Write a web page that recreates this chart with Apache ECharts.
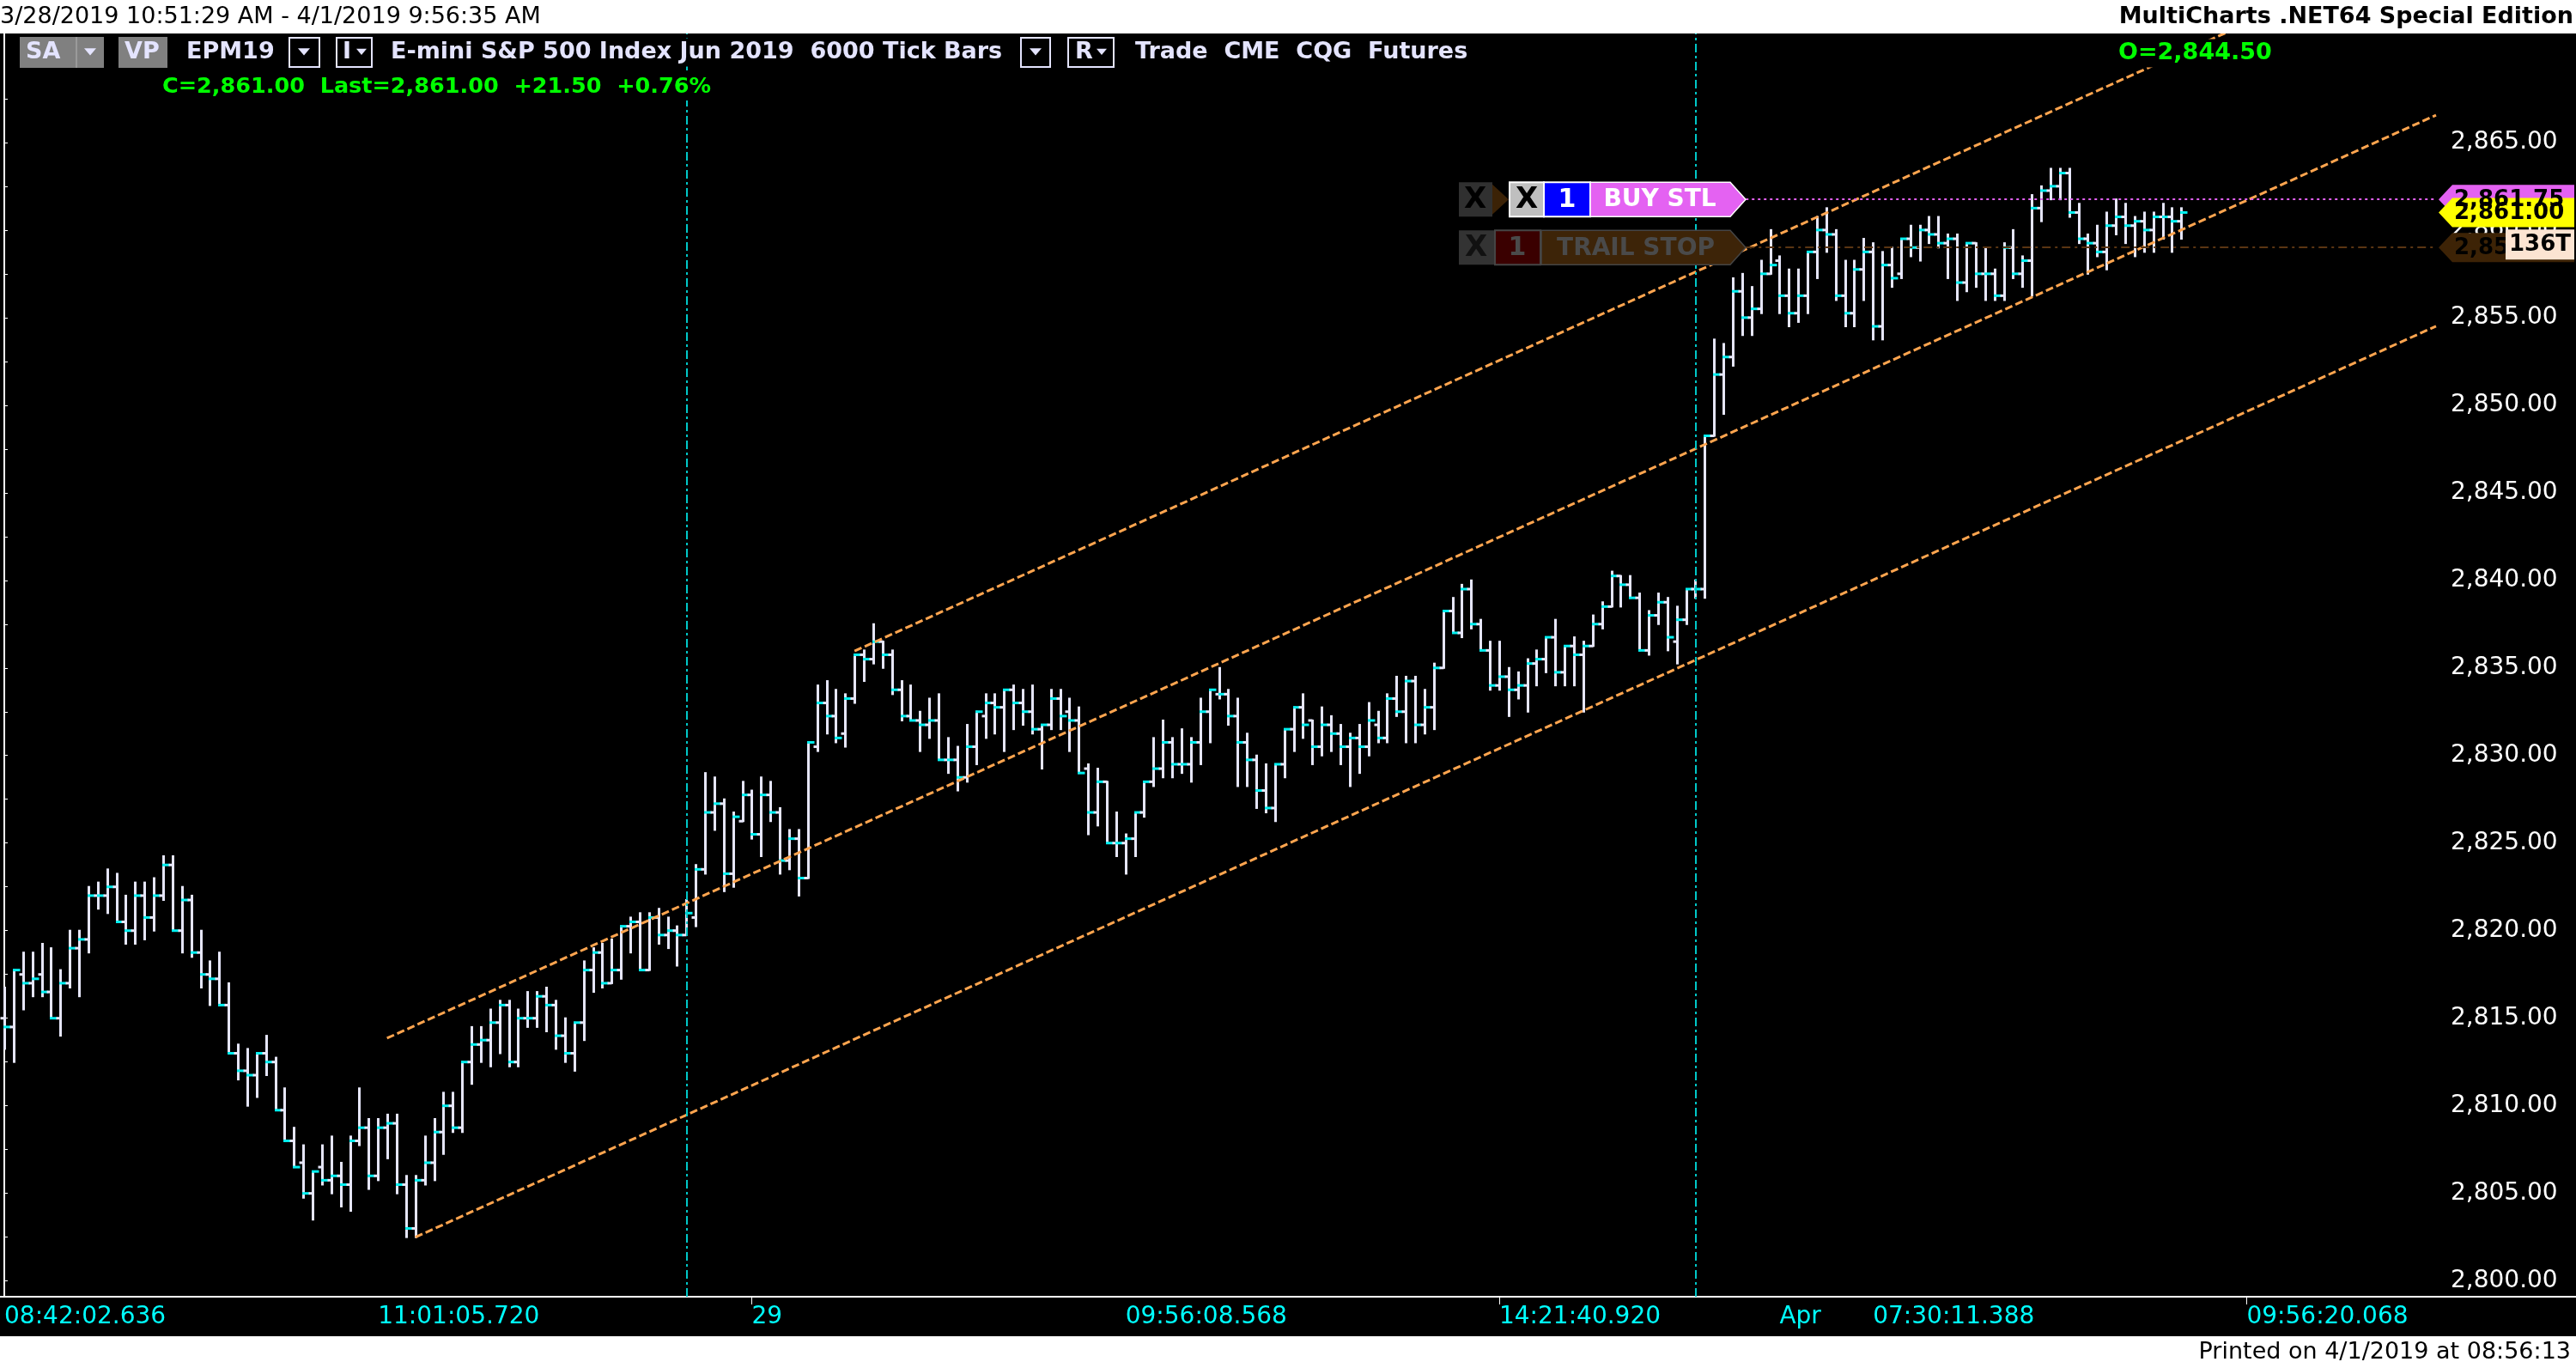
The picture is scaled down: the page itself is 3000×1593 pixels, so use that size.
<!DOCTYPE html>
<html>
<head>
<meta charset="utf-8">
<title>EPM19 6000 Tick Bars</title>
<script src="https://cdn.jsdelivr.net/npm/echarts@6/dist/echarts.min.js"></script>
<style>
  html, body { margin: 0; padding: 0; background: #fff; }
  #main { width: 3000px; height: 1593px; }
</style>
</head>
<body>
<div id="main"></div>
<script>
// OHLC of each 6000-tick bar (index = bar number)
var barOpen = [
  2815, 2814.5, 2817.5, 2817, 2817.5, 2816.5, 2815, 2817, 2819, 2819.5,
  2822, 2822, 2822.5, 2820.5, 2820, 2822, 2820.75, 2822, 2823.75, 2820,
  2821.75, 2818.75, 2817.5, 2817.25, 2815.75, 2813, 2812, 2811.75, 2813, 2812.5,
  2809.75, 2808, 2806.75, 2805, 2806.5, 2805.75, 2806, 2805.5, 2808, 2808.75,
  2806, 2808.75, 2809, 2805.5, 2803, 2805.75, 2806.75, 2808.5, 2810, 2808.75,
  2812.5, 2813.5, 2813.75, 2814.75, 2815.75, 2812.5, 2815, 2815, 2816.25, 2815.75,
  2814, 2813, 2814.75, 2817.75, 2818.75, 2817, 2817.75, 2820.25, 2820.5, 2817.75,
  2820.75, 2819.75, 2820, 2819.75, 2820.75, 2823.5, 2826.75, 2827.25, 2823.25, 2826.25,
  2827.75, 2825.5, 2827.75, 2826.75, 2824, 2825.25, 2823, 2830.5, 2833, 2832.25,
  2831.25, 2833.25, 2835.75, 2835.5, 2836.5, 2835.75, 2833.75, 2832.25, 2832, 2831.75,
  2832, 2829.75, 2829.75, 2828.75, 2830.5, 2832.25, 2833, 2832.75, 2833.75, 2833,
  2832.5, 2831.5, 2831.75, 2833.25, 2832.5, 2832, 2829.25, 2826.75, 2828.5, 2825,
  2825, 2825.25, 2826.75, 2828.5, 2829.25, 2830.75, 2829.5, 2829.5, 2830.75, 2832.5,
  2833.5, 2833.5, 2832.25, 2830.75, 2829.75, 2828, 2827, 2829.5, 2831.5, 2832.75,
  2832, 2830.5, 2831.75, 2831.25, 2830.5, 2831, 2830.5, 2831.75, 2831, 2833.25,
  2832.5, 2834.25, 2831.75, 2832.75, 2835, 2838.25, 2837, 2839.5, 2837.5, 2836,
  2834, 2834.5, 2833.75, 2834, 2835.25, 2835.5, 2836.75, 2834.75, 2836.25, 2835.75,
  2836.25, 2837.5, 2838.5, 2840.25, 2839.75, 2839, 2836, 2838, 2838.75, 2836.5,
  2837.75, 2839.5, 2839.5, 2848.25, 2851.75, 2852.75, 2856.5, 2855, 2855.5, 2857.5,
  2858.25, 2856.25, 2855.25, 2856.25, 2858.75, 2860, 2859.75, 2856.25, 2855.25, 2857.75,
  2858.75, 2854.5, 2858, 2857.5, 2859.5, 2859, 2860, 2859.75, 2859.25, 2859.5,
  2857, 2859.25, 2857.5, 2857.5, 2856.25, 2859, 2857.5, 2858.25, 2861.25, 2862.25,
  2862.5, 2863.25, 2861, 2859.5, 2859.25, 2858.75, 2860.25, 2860.75, 2860.25, 2860.5,
  2860, 2860.75, 2860.75, 2860.5
];
var barHigh = [
  2816.75, 2817.75, 2818.75, 2818.75, 2819.25, 2819, 2817.75, 2820, 2820, 2822.5,
  2822.75, 2823.5, 2823.25, 2822, 2822.75, 2822.75, 2823, 2824.25, 2824.25, 2822.5,
  2822, 2820, 2818.25, 2818.75, 2817, 2813.5, 2813.25, 2813, 2814, 2812.75,
  2811, 2808.75, 2807.75, 2806.25, 2807.75, 2808.25, 2806.75, 2808.25, 2811, 2809.25,
  2809.25, 2809.5, 2809.5, 2806, 2806, 2808.25, 2809.25, 2810.75, 2810.75, 2812.5,
  2814.5, 2814.5, 2815.5, 2816, 2816, 2815.5, 2816.5, 2816.5, 2816.75, 2816,
  2815, 2814.75, 2818.25, 2819, 2819.25, 2819.5, 2820.25, 2820.75, 2821, 2821,
  2821.25, 2820.75, 2820.25, 2821.75, 2823.75, 2829, 2828.75, 2827.5, 2826.75, 2828.5,
  2828, 2828.75, 2828.5, 2827, 2825.75, 2825.75, 2830.75, 2834, 2834.25, 2833.75,
  2833.5, 2835.75, 2836, 2837.5, 2836.5, 2836, 2834.25, 2834, 2832.5, 2833.25,
  2833.5, 2831, 2830.5, 2831.75, 2832.5, 2833.5, 2833.5, 2833.75, 2834, 2833.75,
  2834, 2831.75, 2833.75, 2833.75, 2833.25, 2832.75, 2829.5, 2829.25, 2828.5, 2826.75,
  2825.5, 2826.75, 2828.5, 2831, 2832, 2831, 2831.5, 2831, 2833.25, 2833.75,
  2835, 2833.75, 2833.25, 2831.25, 2830, 2829.5, 2829.5, 2831.5, 2832.75, 2833.5,
  2832, 2832.75, 2832.25, 2831.75, 2831.25, 2831.75, 2833, 2832.5, 2833.5, 2834.5,
  2834.5, 2834.5, 2833.75, 2835.25, 2838.25, 2839, 2839.75, 2840, 2837.75, 2836.5,
  2836.5, 2835, 2834.75, 2835.5, 2836, 2836.75, 2837.75, 2836.25, 2836.75, 2836.5,
  2838, 2838.75, 2840.5, 2840.25, 2840.25, 2839.25, 2838.25, 2839.25, 2839, 2838.5,
  2839.5, 2840, 2848.25, 2853.75, 2853.5, 2857.25, 2857.5, 2856.75, 2858.25, 2860,
  2858.5, 2857.75, 2857.75, 2858.75, 2860.75, 2861.25, 2860, 2858.25, 2858.25, 2859.5,
  2859.25, 2858.75, 2859, 2859.5, 2860.25, 2860.25, 2860.75, 2860.75, 2859.75, 2859.75,
  2859.25, 2859.25, 2859, 2857.75, 2859.25, 2860, 2858.5, 2862, 2862.5, 2863.5,
  2863.5, 2863.5, 2861.5, 2859.75, 2860.25, 2861, 2861.75, 2861.5, 2860.75, 2861,
  2861, 2861.5, 2861.25, 2861.25
];
var barLow = [
  2813.25, 2812.5, 2815.5, 2816.25, 2816.25, 2815, 2814, 2816.75, 2816.25, 2818.75,
  2821.25, 2821, 2820.5, 2819.25, 2819.25, 2819.5, 2820, 2821.75, 2820, 2818.75,
  2818.5, 2816.75, 2815.75, 2815.75, 2813, 2811.5, 2810, 2810.5, 2811.75, 2809.75,
  2808, 2806.5, 2804.75, 2803.5, 2805.5, 2805, 2804.25, 2804, 2807.75, 2805.25,
  2805.75, 2807, 2805, 2802.5, 2802.5, 2805.5, 2805.75, 2807.25, 2808.5, 2808.5,
  2811.25, 2812.5, 2812.25, 2813, 2812.25, 2812.25, 2814.5, 2814.5, 2814.25, 2813.25,
  2812.5, 2812, 2813.75, 2816.5, 2816.75, 2817, 2817.25, 2818.75, 2817.75, 2817.75,
  2819.25, 2819, 2818, 2819.75, 2820.25, 2823.25, 2825.75, 2822.25, 2822.5, 2826.25,
  2825.25, 2824.25, 2826.25, 2823.25, 2823.5, 2822, 2823, 2830.25, 2831.25, 2830.75,
  2830.5, 2833, 2834.25, 2835.25, 2835, 2833.5, 2832, 2832, 2830.25, 2831,
  2829.75, 2829, 2828, 2828.5, 2829.5, 2831, 2831.25, 2830.25, 2831.5, 2831.75,
  2831.25, 2829.25, 2831.5, 2831.5, 2830.25, 2829, 2825.5, 2826, 2825, 2824.25,
  2823.25, 2824.25, 2826.5, 2828.25, 2828.75, 2828.75, 2829, 2828.5, 2829.5, 2830.75,
  2833.25, 2831.75, 2828.25, 2828.25, 2827, 2826.75, 2826.25, 2828.75, 2830.25, 2831,
  2829.5, 2830, 2830.25, 2829.5, 2828.25, 2829, 2830, 2830.75, 2830.75, 2832.25,
  2830.75, 2830.75, 2831.25, 2831.5, 2835, 2837, 2836.75, 2837.25, 2836, 2833.75,
  2833.75, 2832.25, 2833.25, 2832.5, 2834, 2834.75, 2834, 2834, 2834, 2832.5,
  2836.25, 2837.25, 2838.5, 2838.5, 2839, 2836, 2835.75, 2837.5, 2836, 2835.25,
  2837.5, 2839, 2839, 2848.25, 2849.5, 2852.25, 2854, 2854, 2855.25, 2857.5,
  2855.25, 2854.5, 2854.75, 2855.25, 2857.25, 2858.75, 2856, 2854.5, 2854.5, 2856,
  2853.75, 2853.75, 2856.75, 2857.25, 2858.5, 2858.25, 2859.25, 2859, 2857.25, 2856,
  2856.5, 2856.75, 2856, 2856, 2856, 2857.25, 2856.75, 2856.25, 2860.5, 2861.75,
  2861.75, 2860.75, 2859.25, 2857.5, 2858.5, 2857.75, 2859.75, 2859.25, 2858.5, 2858.75,
  2858.75, 2859.5, 2858.75, 2859.5
];
var barClose = [
  2814.5, 2817.75, 2817, 2817.25, 2816.5, 2815, 2817, 2819, 2819.5, 2822,
  2822, 2822.5, 2820.5, 2820, 2822, 2820.75, 2822, 2823.75, 2820, 2821.75,
  2818.75, 2817.5, 2817.25, 2815.75, 2813, 2812, 2811.75, 2813, 2812.5, 2809.75,
  2808, 2806.5, 2805, 2806.25, 2805.75, 2806, 2805.5, 2808, 2808.75, 2806,
  2808.75, 2809, 2805.5, 2803, 2805.75, 2806.75, 2808.5, 2810, 2808.75, 2812.5,
  2813.5, 2813.75, 2814.75, 2815.75, 2812.5, 2815, 2815, 2816.25, 2815.75, 2814,
  2813, 2814.75, 2817.75, 2818.75, 2817, 2817.75, 2820.25, 2820.5, 2817.75, 2820.75,
  2819.75, 2820, 2819.75, 2821, 2823.5, 2826.75, 2827.25, 2823.25, 2826.5, 2827.75,
  2825.5, 2827.75, 2826.75, 2824, 2825.25, 2823, 2830.75, 2833, 2832.25, 2831,
  2833.25, 2835.75, 2835.5, 2836.5, 2835.75, 2833.75, 2832.25, 2832, 2831.75, 2832,
  2829.75, 2829.75, 2828.75, 2830.5, 2832.5, 2833, 2832.75, 2833.75, 2833, 2832.5,
  2831.5, 2831.75, 2833.25, 2832.25, 2832, 2829, 2826.75, 2828.5, 2825, 2825,
  2825.25, 2826.75, 2828.5, 2829.25, 2830.75, 2829.5, 2829.5, 2830.75, 2832.5, 2833.75,
  2833.5, 2832.25, 2830.75, 2829.75, 2828, 2827, 2829.5, 2831.5, 2832.75, 2831.75,
  2830.5, 2831.75, 2831.25, 2830.5, 2831, 2830.5, 2832, 2831, 2833.25, 2832.5,
  2834.25, 2831.75, 2832.75, 2835, 2838.25, 2837, 2839.5, 2837.5, 2836, 2834,
  2834.5, 2833.75, 2834, 2835.25, 2835.5, 2836.75, 2834.75, 2836.25, 2835.75, 2836.25,
  2837.5, 2838.5, 2840.25, 2839.75, 2839, 2836, 2838, 2838.75, 2836.75, 2837.75,
  2839.5, 2839.5, 2848.25, 2851.75, 2852.75, 2856.5, 2855, 2855.5, 2857.5, 2858,
  2856.25, 2855.25, 2856.25, 2858.75, 2860, 2859.75, 2856.25, 2855.25, 2857.75, 2858.75,
  2854.5, 2858, 2857.25, 2859.5, 2859, 2860, 2859.75, 2859.25, 2859.5, 2857,
  2859.25, 2857.5, 2857.5, 2856.25, 2859, 2857.5, 2858.25, 2861.25, 2862.25, 2862.5,
  2863.25, 2861, 2859.5, 2859.25, 2858.75, 2860.25, 2860.75, 2860.25, 2860.5, 2860,
  2860.75, 2860.75, 2860.5, 2861
];

// time axis labels sit on bar numbers
var xLabelIdx = [0, 40, 80, 120, 160, 190, 200, 240];
var xLabelText = ['08:42:02.636', '11:01:05.720', '29', '09:56:08.568', '14:21:40.920', 'Apr', '07:30:11.388', '09:56:20.068'];
var xTickMarks = [80, 160, 240];
var sessionBreaks = [73, 181];

// price axis
var yTicks = [2800, 2805, 2810, 2815, 2820, 2825, 2830, 2835, 2840, 2845, 2850, 2855, 2860, 2865];
var yMinorTicks = [2800, 2802.5, 2805, 2807.5, 2810, 2812.5, 2815, 2817.5, 2820, 2822.5, 2825, 2827.5,
  2830, 2832.5, 2835, 2837.5, 2840, 2842.5, 2845, 2847.5, 2850, 2852.5, 2855, 2857.5,
  2860, 2862.5, 2865, 2867.5];

// trend channel drawn by the user: [bar, price] end points
var channelUpper = [[91, 2835.96], [260.27, 2876.67]];
var channelMiddle = [[40.96, 2813.86], [260.27, 2866.56]];
var channelLower = [[44, 2802.5], [260.27, 2854.51]];

// working orders and price markers
var buyStopPrice = 2861.75;
var trailStopPrice = 2859.00;
var lastPrice = 2861.00;
var orderLineStart = 186.4;

var X_MIN = -0.46, X_MAX = 260.27;
var Y_MIN = 2799.1, Y_MAX = 2871.22;

var BAR_COLOR = '#e6e6fa';
var CLOSE_COLOR = '#00f0f0';
var HDR = '#e4e4ff';
var FONT = '"DejaVu Sans", Verdana, sans-serif';

function fmtPrice(v) {
  var parts = v.toFixed(2).split('.');
  return parts[0].replace(/\B(?=(\d{3})+$)/g, ',') + '.' + parts[1];
}

function renderBar(params, api) {
  var i = api.value(0);
  var pO = api.coord([i, api.value(1)]);
  var pH = api.coord([i, api.value(2)]);
  var pL = api.coord([i, api.value(3)]);
  var pC = api.coord([i, api.value(4)]);
  var x = Math.round(pO[0]) + 0.5;
  return {
    type: 'group',
    children: [
      { type: 'line', shape: { x1: x, y1: pH[1] - 1, x2: x, y2: pL[1] + 1 }, style: { stroke: BAR_COLOR, lineWidth: 3 } },
      { type: 'line', shape: { x1: x - 5, y1: pO[1], x2: x, y2: pO[1] }, style: { stroke: BAR_COLOR, lineWidth: 3 } },
      { type: 'line', shape: { x1: x - 1.5, y1: pC[1], x2: x + 7, y2: pC[1] }, style: { stroke: CLOSE_COLOR, lineWidth: 3 } }
    ]
  };
}

var ohlcData = barOpen.map(function (o, i) {
  return [i, o, barHigh[i], barLow[i], barClose[i]];
});

var chanStyle = { color: '#ffa54f', width: 3, type: [9, 4] };

var chart = echarts.init(document.getElementById('main'));

var option = {
  backgroundColor: '#000',
  animation: false,
  grid: { left: 0, right: 163, top: 39, bottom: 83, containLabel: false, outerBoundsMode: 'none' },
  xAxis: {
    type: 'value',
    min: X_MIN,
    max: X_MAX,
    axisLine: { show: true, onZero: false, lineStyle: { color: '#ffffff', width: 2 } },
    axisTick: { show: true, customValues: xTickMarks, length: 9, lineStyle: { color: '#ffffff', width: 1 } },
    axisLabel: {
      customValues: xLabelIdx,
      formatter: function (v) {
        var k = xLabelIdx.indexOf(Math.round(v));
        return k >= 0 ? xLabelText[k] : '';
      },
      color: '#00ffff',
      fontSize: 28,
      fontFamily: FONT,
      align: 'left',
      margin: 10
    },
    splitLine: { show: false }
  },
  yAxis: {
    type: 'value',
    position: 'right',
    min: Y_MIN,
    max: Y_MAX,
    axisLine: { show: true, lineStyle: { color: '#ffffff', width: 2 } },
    axisTick: { show: true, customValues: yMinorTicks, length: 4, lineStyle: { color: '#ffffff', width: 1 } },
    axisLabel: {
      customValues: yTicks,
      formatter: fmtPrice,
      color: '#ffffff',
      fontSize: 28,
      fontFamily: FONT,
      margin: 17
    },
    splitLine: { show: false }
  },
  series: [
    {
      type: 'custom',
      name: 'EPM19',
      renderItem: renderBar,
      data: ohlcData,
      encode: { x: 0, y: [1, 2, 3, 4] },
      clip: true,
      silent: true,
      z: 2,
      markLine: {
        silent: true,
        symbol: ['none', 'none'],
        label: { show: false },
        animation: false,
        data: sessionBreaks.map(function (b) {
          return { xAxis: b, lineStyle: { color: '#00c8c8', width: 2, type: [10, 4, 3, 4] } };
        }).concat([
          [
            { coord: [orderLineStart, buyStopPrice], lineStyle: { color: '#e060f0', width: 2, type: [3, 4] } },
            { coord: [X_MAX, buyStopPrice] }
          ],
          [
            { coord: [orderLineStart, trailStopPrice], lineStyle: { color: '#5a3512', width: 2, type: [10, 5, 3, 5] } },
            { coord: [X_MAX, trailStopPrice] }
          ]
        ])
      }
    },
    { type: 'line', data: channelUpper, symbol: 'none', lineStyle: chanStyle, silent: true, z: 3 },
    { type: 'line', data: channelMiddle, symbol: 'none', lineStyle: chanStyle, silent: true, z: 3 },
    { type: 'line', data: channelLower, symbol: 'none', lineStyle: chanStyle, silent: true, z: 3 }
  ]
};

chart.setOption(option);

// ---- overlays: title strips, status line, order tags, price markers ----
function txt(s, x, y, font, fill, align, bg) {
  var st = { text: s, x: x, y: y, font: font, fill: fill, align: align || 'left', verticalAlign: 'middle' };
  if (bg) { st.backgroundColor = bg; st.padding = [3, 2]; }
  return { type: 'text', z: 100, style: st };
}
function box(x, y, w, h, fill, stroke) {
  return { type: 'rect', z: 100, shape: { x: x, y: y, width: w, height: h },
    style: { fill: fill, stroke: stroke || null, lineWidth: stroke ? 2 : 0 } };
}
function tri(cx, cy, s, fill) {
  return { type: 'polygon', z: 101, shape: { points: [[cx - s, cy - s * 0.55], [cx + s, cy - s * 0.55], [cx, cy + s * 0.65]] },
    style: { fill: fill } };
}
function tag(x1, x2, tip, cy, h, fill, stroke) {
  return { type: 'polygon', z: 100,
    shape: { points: [[x1, cy - h / 2], [x2, cy - h / 2], [tip, cy], [x2, cy + h / 2], [x1, cy + h / 2]] },
    style: { fill: fill, stroke: stroke || null, lineWidth: stroke ? 1.5 : 0 } };
}
function marker(cy, fill, label, color) {
  return [
    { type: 'polygon', z: 110,
      shape: { points: [[2840, cy], [2856, cy - 17], [2998, cy - 17], [2998, cy + 17], [2856, cy + 17]] },
      style: { fill: fill } },
    { type: 'text', z: 111, style: { text: label, x: 2858, y: cy + 1, font: 'bold 26px ' + FONT, fill: color, align: 'left', verticalAlign: 'middle' } }
  ];
}

var yBuy = chart.convertToPixel({ yAxisIndex: 0 }, buyStopPrice);
var yTrail = chart.convertToPixel({ yAxisIndex: 0 }, trailStopPrice);
var yLast = chart.convertToPixel({ yAxisIndex: 0 }, lastPrice);
var hb = 'bold 27px ' + FONT;

var g = [
  // white strips
  box(0, 0, 3000, 39, '#ffffff'),
  box(0, 1556, 3000, 37, '#ffffff'),
  txt('3/28/2019 10:51:29 AM - 4/1/2019 9:56:35 AM', 0, 20, '27px ' + FONT, '#000'),
  txt('MultiCharts .NET64 Special Edition', 2997, 20, hb, '#000', 'right'),
  txt('Printed on 4/1/2019 at 08:56:13', 2994, 1575, '27px ' + FONT, '#000', 'right'),
  { type: 'line', z: 100, shape: { x1: 2837, y1: 1510, x2: 3000, y2: 1510 }, style: { stroke: '#ffffff', lineWidth: 2 } },

  // status line
  box(23, 43, 98, 36, '#808080'),
  { type: 'line', z: 101, shape: { x1: 89, y1: 43, x2: 89, y2: 79 }, style: { stroke: '#b4b4b4', lineWidth: 1 } },
  txt('SA', 30, 61, hb, HDR),
  tri(105, 60, 7, HDR),
  box(138, 43, 57, 36, '#808080'),
  txt('VP', 145, 61, hb, HDR),
  txt('EPM19', 215, 61, hb, HDR, 'left', '#000'),
  box(337, 44, 35, 34, '#000', HDR),
  tri(354, 60, 7, HDR),
  box(392, 44, 41, 34, '#000', HDR),
  txt('I', 399, 61, hb, HDR),
  tri(421, 60, 6, HDR),
  txt('E-mini S&P 500 Index Jun 2019  6000 Tick Bars', 453, 61, hb, HDR, 'left', '#000'),
  box(1189, 44, 34, 34, '#000', HDR),
  tri(1206, 60, 7, HDR),
  box(1244, 44, 53, 34, '#000', HDR),
  txt('R', 1252, 61, hb, HDR),
  tri(1283, 60, 6, HDR),
  txt('Trade  CME  CQG  Futures', 1320, 61, hb, HDR, 'left', '#000'),
  txt('C=2,861.00  Last=2,861.00  +21.50  +0.76%', 187, 101, 'bold 25.5px ' + FONT, '#00ff00', 'left', '#000'),
  txt('O=2,844.50', 2465, 62, hb, '#00ff00', 'left', '#000'),

  // BUY STL order tag
  box(1699, yBuy - 20, 39, 40, '#303030'),
  txt('X', 1718, yBuy + 1, 'bold 34px ' + FONT, '#000', 'center'),
  tag(1738, 1738, 1757, yBuy, 35, '#3b2206'),
  box(1758, yBuy - 20, 40, 40, '#bfbfbf', '#ffffff'),
  txt('X', 1778, yBuy + 1, 'bold 34px ' + FONT, '#000', 'center'),
  box(1798, yBuy - 20, 54, 40, '#0000ff', '#ffffff'),
  txt('1', 1825, yBuy + 1, 'bold 30px ' + FONT, '#ffffff', 'center'),
  tag(1852, 2015, 2033, yBuy, 40, '#e462f2', '#ffffff'),
  txt('BUY STL', 1933, yBuy + 1, 'bold 28px ' + FONT, '#ffffff', 'center'),

  // TRAIL STOP order tag
  box(1699, yTrail - 20, 41, 40, '#333333'),
  txt('X', 1719, yTrail + 1, 'bold 34px ' + FONT, '#111111', 'center'),
  box(1741, yTrail - 20, 53, 40, '#3a0000', '#454545'),
  txt('1', 1767, yTrail + 1, 'bold 30px ' + FONT, '#4a4a4a', 'center'),
  tag(1795, 2015, 2033, yTrail, 40, '#3d2408', '#454545'),
  txt('TRAIL STOP', 1905, yTrail + 1, 'bold 28px ' + FONT, '#4a4a4a', 'center')
];

g = g.concat(marker(yBuy, '#e462f2', fmtPrice(buyStopPrice), '#000'));
g = g.concat(marker(yLast, '#ffff00', fmtPrice(lastPrice), '#000'));
g = g.concat(marker(yTrail, '#3d2306', fmtPrice(trailStopPrice), '#000'));
g.push({ type: 'rect', z: 112, shape: { x: 2918, y: yTrail - 21, width: 80, height: 35 }, style: { fill: '#fce4d2' } });
g.push({ type: 'text', z: 113, style: { text: '136T', x: 2958, y: yTrail - 3, font: 'bold 26px ' + FONT, fill: '#000', align: 'center', verticalAlign: 'middle' } });

chart.setOption({ graphic: g });
</script>
